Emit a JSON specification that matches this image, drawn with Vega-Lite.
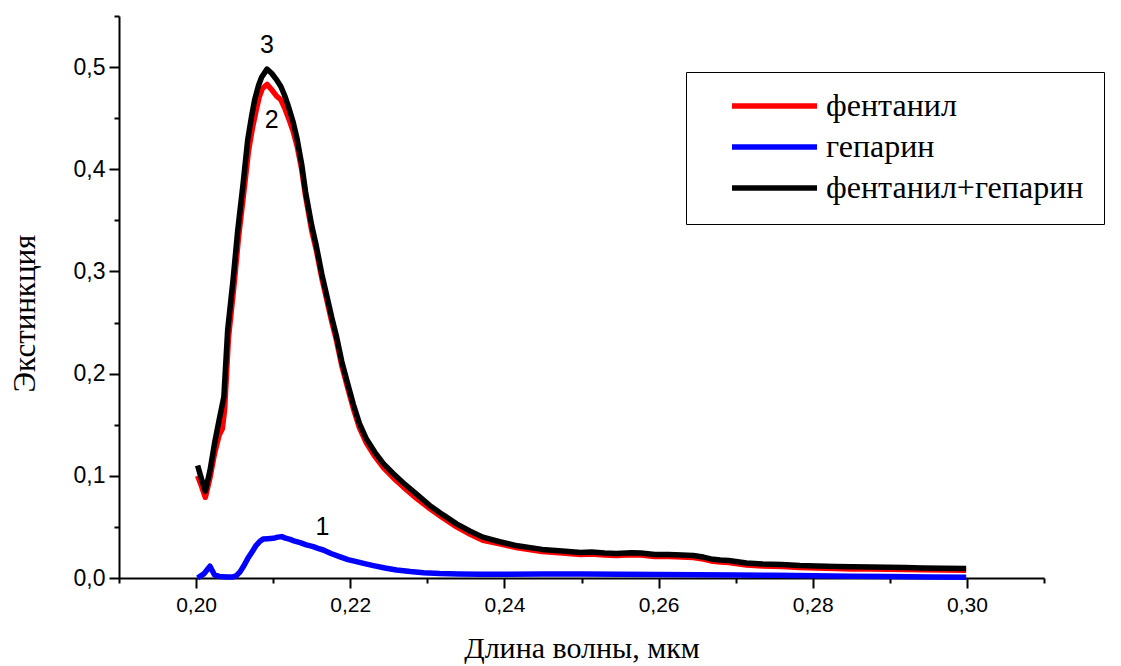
{
  "$schema": "https://vega.github.io/schema/vega-lite/v6.json",
  "width": 925,
  "height": 562,
  "autosize": {"type": "none"},
  "padding": {"left": 119, "top": 16, "right": 77, "bottom": 88},
  "background": "white",
  "config": {
    "view": {"stroke": null},
    "font": "Liberation Sans",
    "legend": {
      "orient": "none",
      "legendX": 567,
      "legendY": 56,
      "symbolType": "stroke",
      "symbolSize": 7225,
      "symbolStrokeWidth": 5.5,
      "labelFont": "Liberation Serif",
      "labelFontSize": 32,
      "labelColor": "black",
      "labelOffset": 6,
      "labelLimit": 600,
      "padding": 20,
      "symbolOffset": 23,
      "strokeColor": "black",
      "rowPadding": 9,
      "clipHeight": 28
    }
  },
  "datasets": {
    "curves": [
      {"sample": "фентанил", "wavelength": 0.2002, "extinction": 0.100},
      {"sample": "фентанил", "wavelength": 0.2007, "extinction": 0.090},
      {"sample": "фентанил", "wavelength": 0.2012, "extinction": 0.079},
      {"sample": "фентанил", "wavelength": 0.2018, "extinction": 0.098},
      {"sample": "фентанил", "wavelength": 0.2024, "extinction": 0.122},
      {"sample": "фентанил", "wavelength": 0.2030, "extinction": 0.140},
      {"sample": "фентанил", "wavelength": 0.2034, "extinction": 0.146},
      {"sample": "фентанил", "wavelength": 0.2037, "extinction": 0.165},
      {"sample": "фентанил", "wavelength": 0.2042, "extinction": 0.235},
      {"sample": "фентанил", "wavelength": 0.2049, "extinction": 0.285},
      {"sample": "фентанил", "wavelength": 0.2055, "extinction": 0.333},
      {"sample": "фентанил", "wavelength": 0.2062, "extinction": 0.378},
      {"sample": "фентанил", "wavelength": 0.2068, "extinction": 0.418},
      {"sample": "фентанил", "wavelength": 0.2073, "extinction": 0.440},
      {"sample": "фентанил", "wavelength": 0.2078, "extinction": 0.458},
      {"sample": "фентанил", "wavelength": 0.2082, "extinction": 0.471},
      {"sample": "фентанил", "wavelength": 0.2086, "extinction": 0.479},
      {"sample": "фентанил", "wavelength": 0.2092, "extinction": 0.483},
      {"sample": "фентанил", "wavelength": 0.2098, "extinction": 0.478},
      {"sample": "фентанил", "wavelength": 0.2104, "extinction": 0.472},
      {"sample": "фентанил", "wavelength": 0.2110, "extinction": 0.468},
      {"sample": "фентанил", "wavelength": 0.2115, "extinction": 0.460},
      {"sample": "фентанил", "wavelength": 0.2120, "extinction": 0.450},
      {"sample": "фентанил", "wavelength": 0.2126, "extinction": 0.437},
      {"sample": "фентанил", "wavelength": 0.2131, "extinction": 0.423},
      {"sample": "фентанил", "wavelength": 0.2137, "extinction": 0.400},
      {"sample": "фентанил", "wavelength": 0.2142, "extinction": 0.374},
      {"sample": "фентанил", "wavelength": 0.2150, "extinction": 0.340},
      {"sample": "фентанил", "wavelength": 0.2156, "extinction": 0.321},
      {"sample": "фентанил", "wavelength": 0.2163, "extinction": 0.294},
      {"sample": "фентанил", "wavelength": 0.2170, "extinction": 0.271},
      {"sample": "фентанил", "wavelength": 0.2176, "extinction": 0.251},
      {"sample": "фентанил", "wavelength": 0.2182, "extinction": 0.233},
      {"sample": "фентанил", "wavelength": 0.2189, "extinction": 0.208},
      {"sample": "фентанил", "wavelength": 0.2196, "extinction": 0.188},
      {"sample": "фентанил", "wavelength": 0.2204, "extinction": 0.166},
      {"sample": "фентанил", "wavelength": 0.2212, "extinction": 0.147},
      {"sample": "фентанил", "wavelength": 0.2221, "extinction": 0.132},
      {"sample": "фентанил", "wavelength": 0.2232, "extinction": 0.119},
      {"sample": "фентанил", "wavelength": 0.2243, "extinction": 0.108},
      {"sample": "фентанил", "wavelength": 0.2256, "extinction": 0.098},
      {"sample": "фентанил", "wavelength": 0.2269, "extinction": 0.089},
      {"sample": "фентанил", "wavelength": 0.2286, "extinction": 0.078},
      {"sample": "фентанил", "wavelength": 0.2303, "extinction": 0.068},
      {"sample": "фентанил", "wavelength": 0.2320, "extinction": 0.059},
      {"sample": "фентанил", "wavelength": 0.2338, "extinction": 0.050},
      {"sample": "фентанил", "wavelength": 0.2355, "extinction": 0.043},
      {"sample": "фентанил", "wavelength": 0.2372, "extinction": 0.037},
      {"sample": "фентанил", "wavelength": 0.2394, "extinction": 0.0335},
      {"sample": "фентанил", "wavelength": 0.2417, "extinction": 0.0295},
      {"sample": "фентанил", "wavelength": 0.2449, "extinction": 0.026},
      {"sample": "фентанил", "wavelength": 0.2475, "extinction": 0.0245},
      {"sample": "фентанил", "wavelength": 0.2499, "extinction": 0.023},
      {"sample": "фентанил", "wavelength": 0.2513, "extinction": 0.0235},
      {"sample": "фентанил", "wavelength": 0.2530, "extinction": 0.0225},
      {"sample": "фентанил", "wavelength": 0.2545, "extinction": 0.022},
      {"sample": "фентанил", "wavelength": 0.2565, "extinction": 0.0228},
      {"sample": "фентанил", "wavelength": 0.2577, "extinction": 0.0225},
      {"sample": "фентанил", "wavelength": 0.2595, "extinction": 0.021},
      {"sample": "фентанил", "wavelength": 0.2613, "extinction": 0.021},
      {"sample": "фентанил", "wavelength": 0.2630, "extinction": 0.0205},
      {"sample": "фентанил", "wavelength": 0.2645, "extinction": 0.020},
      {"sample": "фентанил", "wavelength": 0.2658, "extinction": 0.0185},
      {"sample": "фентанил", "wavelength": 0.2668, "extinction": 0.0167},
      {"sample": "фентанил", "wavelength": 0.2680, "extinction": 0.0157},
      {"sample": "фентанил", "wavelength": 0.2691, "extinction": 0.0152},
      {"sample": "фентанил", "wavelength": 0.2714, "extinction": 0.0127},
      {"sample": "фентанил", "wavelength": 0.2735, "extinction": 0.0117},
      {"sample": "фентанил", "wavelength": 0.2760, "extinction": 0.0112},
      {"sample": "фентанил", "wavelength": 0.2783, "extinction": 0.0102},
      {"sample": "фентанил", "wavelength": 0.2805, "extinction": 0.0097},
      {"sample": "фентанил", "wavelength": 0.2830, "extinction": 0.0093},
      {"sample": "фентанил", "wavelength": 0.2851, "extinction": 0.0089},
      {"sample": "фентанил", "wavelength": 0.2875, "extinction": 0.0087},
      {"sample": "фентанил", "wavelength": 0.2897, "extinction": 0.0086},
      {"sample": "фентанил", "wavelength": 0.2920, "extinction": 0.0084},
      {"sample": "фентанил", "wavelength": 0.2942, "extinction": 0.0081},
      {"sample": "фентанил", "wavelength": 0.2970, "extinction": 0.0079},
      {"sample": "фентанил", "wavelength": 0.2999, "extinction": 0.0077},
      {"sample": "гепарин", "wavelength": 0.2002, "extinction": 0.000},
      {"sample": "гепарин", "wavelength": 0.2010, "extinction": 0.004},
      {"sample": "гепарин", "wavelength": 0.2018, "extinction": 0.0115},
      {"sample": "гепарин", "wavelength": 0.2024, "extinction": 0.003},
      {"sample": "гепарин", "wavelength": 0.2030, "extinction": 0.0015},
      {"sample": "гепарин", "wavelength": 0.2040, "extinction": 0.001},
      {"sample": "гепарин", "wavelength": 0.2048, "extinction": 0.001},
      {"sample": "гепарин", "wavelength": 0.2052, "extinction": 0.002},
      {"sample": "гепарин", "wavelength": 0.2057, "extinction": 0.006},
      {"sample": "гепарин", "wavelength": 0.2062, "extinction": 0.012},
      {"sample": "гепарин", "wavelength": 0.2067, "extinction": 0.019},
      {"sample": "гепарин", "wavelength": 0.2073, "extinction": 0.026},
      {"sample": "гепарин", "wavelength": 0.2078, "extinction": 0.032},
      {"sample": "гепарин", "wavelength": 0.2083, "extinction": 0.036},
      {"sample": "гепарин", "wavelength": 0.2087, "extinction": 0.0382},
      {"sample": "гепарин", "wavelength": 0.2093, "extinction": 0.0385},
      {"sample": "гепарин", "wavelength": 0.2100, "extinction": 0.0388},
      {"sample": "гепарин", "wavelength": 0.2106, "extinction": 0.040},
      {"sample": "гепарин", "wavelength": 0.2111, "extinction": 0.0405},
      {"sample": "гепарин", "wavelength": 0.2116, "extinction": 0.039},
      {"sample": "гепарин", "wavelength": 0.2122, "extinction": 0.0378},
      {"sample": "гепарин", "wavelength": 0.2128, "extinction": 0.036},
      {"sample": "гепарин", "wavelength": 0.2135, "extinction": 0.0346},
      {"sample": "гепарин", "wavelength": 0.2143, "extinction": 0.0325},
      {"sample": "гепарин", "wavelength": 0.2152, "extinction": 0.0307},
      {"sample": "гепарин", "wavelength": 0.2158, "extinction": 0.029},
      {"sample": "гепарин", "wavelength": 0.2165, "extinction": 0.0274},
      {"sample": "гепарин", "wavelength": 0.2175, "extinction": 0.024},
      {"sample": "гепарин", "wavelength": 0.2186, "extinction": 0.0209},
      {"sample": "гепарин", "wavelength": 0.2197, "extinction": 0.018},
      {"sample": "гепарин", "wavelength": 0.2208, "extinction": 0.016},
      {"sample": "гепарин", "wavelength": 0.2220, "extinction": 0.0138},
      {"sample": "гепарин", "wavelength": 0.2230, "extinction": 0.0121},
      {"sample": "гепарин", "wavelength": 0.2245, "extinction": 0.0098},
      {"sample": "гепарин", "wavelength": 0.2260, "extinction": 0.0078},
      {"sample": "гепарин", "wavelength": 0.2278, "extinction": 0.0063},
      {"sample": "гепарин", "wavelength": 0.2295, "extinction": 0.0052},
      {"sample": "гепарин", "wavelength": 0.2316, "extinction": 0.0044},
      {"sample": "гепарин", "wavelength": 0.2340, "extinction": 0.0039},
      {"sample": "гепарин", "wavelength": 0.2370, "extinction": 0.0037},
      {"sample": "гепарин", "wavelength": 0.2400, "extinction": 0.0037},
      {"sample": "гепарин", "wavelength": 0.2450, "extinction": 0.0038},
      {"sample": "гепарин", "wavelength": 0.2500, "extinction": 0.0038},
      {"sample": "гепарин", "wavelength": 0.2550, "extinction": 0.0037},
      {"sample": "гепарин", "wavelength": 0.2600, "extinction": 0.0035},
      {"sample": "гепарин", "wavelength": 0.2650, "extinction": 0.0033},
      {"sample": "гепарин", "wavelength": 0.2700, "extinction": 0.0030},
      {"sample": "гепарин", "wavelength": 0.2750, "extinction": 0.0026},
      {"sample": "гепарин", "wavelength": 0.2800, "extinction": 0.0022},
      {"sample": "гепарин", "wavelength": 0.2850, "extinction": 0.0018},
      {"sample": "гепарин", "wavelength": 0.2900, "extinction": 0.0014},
      {"sample": "гепарин", "wavelength": 0.2950, "extinction": 0.0011},
      {"sample": "гепарин", "wavelength": 0.2999, "extinction": 0.0008},
      {"sample": "фентанил+гепарин", "wavelength": 0.2002, "extinction": 0.110},
      {"sample": "фентанил+гепарин", "wavelength": 0.2007, "extinction": 0.097},
      {"sample": "фентанил+гепарин", "wavelength": 0.2012, "extinction": 0.085},
      {"sample": "фентанил+гепарин", "wavelength": 0.2018, "extinction": 0.105},
      {"sample": "фентанил+гепарин", "wavelength": 0.2024, "extinction": 0.132},
      {"sample": "фентанил+гепарин", "wavelength": 0.2030, "extinction": 0.155},
      {"sample": "фентанил+гепарин", "wavelength": 0.2036, "extinction": 0.177},
      {"sample": "фентанил+гепарин", "wavelength": 0.2041, "extinction": 0.243},
      {"sample": "фентанил+гепарин", "wavelength": 0.2048, "extinction": 0.292},
      {"sample": "фентанил+гепарин", "wavelength": 0.2054, "extinction": 0.340},
      {"sample": "фентанил+гепарин", "wavelength": 0.2061, "extinction": 0.386},
      {"sample": "фентанил+гепарин", "wavelength": 0.2067, "extinction": 0.429},
      {"sample": "фентанил+гепарин", "wavelength": 0.2072, "extinction": 0.452},
      {"sample": "фентанил+гепарин", "wavelength": 0.2076, "extinction": 0.468},
      {"sample": "фентанил+гепарин", "wavelength": 0.2081, "extinction": 0.482},
      {"sample": "фентанил+гепарин", "wavelength": 0.2085, "extinction": 0.490},
      {"sample": "фентанил+гепарин", "wavelength": 0.2092, "extinction": 0.498},
      {"sample": "фентанил+гепарин", "wavelength": 0.2098, "extinction": 0.494},
      {"sample": "фентанил+гепарин", "wavelength": 0.2104, "extinction": 0.488},
      {"sample": "фентанил+гепарин", "wavelength": 0.2110, "extinction": 0.481},
      {"sample": "фентанил+гепарин", "wavelength": 0.2115, "extinction": 0.472},
      {"sample": "фентанил+гепарин", "wavelength": 0.2120, "extinction": 0.461},
      {"sample": "фентанил+гепарин", "wavelength": 0.2126, "extinction": 0.446},
      {"sample": "фентанил+гепарин", "wavelength": 0.2131, "extinction": 0.430},
      {"sample": "фентанил+гепарин", "wavelength": 0.2137, "extinction": 0.405},
      {"sample": "фентанил+гепарин", "wavelength": 0.2142, "extinction": 0.378},
      {"sample": "фентанил+гепарин", "wavelength": 0.2150, "extinction": 0.345},
      {"sample": "фентанил+гепарин", "wavelength": 0.2156, "extinction": 0.325},
      {"sample": "фентанил+гепарин", "wavelength": 0.2163, "extinction": 0.298},
      {"sample": "фентанил+гепарин", "wavelength": 0.2170, "extinction": 0.275},
      {"sample": "фентанил+гепарин", "wavelength": 0.2176, "extinction": 0.255},
      {"sample": "фентанил+гепарин", "wavelength": 0.2182, "extinction": 0.237},
      {"sample": "фентанил+гепарин", "wavelength": 0.2189, "extinction": 0.212},
      {"sample": "фентанил+гепарин", "wavelength": 0.2196, "extinction": 0.192},
      {"sample": "фентанил+гепарин", "wavelength": 0.2204, "extinction": 0.170},
      {"sample": "фентанил+гепарин", "wavelength": 0.2212, "extinction": 0.151},
      {"sample": "фентанил+гепарин", "wavelength": 0.2221, "extinction": 0.136},
      {"sample": "фентанил+гепарин", "wavelength": 0.2232, "extinction": 0.123},
      {"sample": "фентанил+гепарин", "wavelength": 0.2243, "extinction": 0.112},
      {"sample": "фентанил+гепарин", "wavelength": 0.2256, "extinction": 0.102},
      {"sample": "фентанил+гепарин", "wavelength": 0.2269, "extinction": 0.093},
      {"sample": "фентанил+гепарин", "wavelength": 0.2286, "extinction": 0.082},
      {"sample": "фентанил+гепарин", "wavelength": 0.2303, "extinction": 0.071},
      {"sample": "фентанил+гепарин", "wavelength": 0.2320, "extinction": 0.062},
      {"sample": "фентанил+гепарин", "wavelength": 0.2338, "extinction": 0.053},
      {"sample": "фентанил+гепарин", "wavelength": 0.2355, "extinction": 0.046},
      {"sample": "фентанил+гепарин", "wavelength": 0.2372, "extinction": 0.040},
      {"sample": "фентанил+гепарин", "wavelength": 0.2394, "extinction": 0.0355},
      {"sample": "фентанил+гепарин", "wavelength": 0.2417, "extinction": 0.0315},
      {"sample": "фентанил+гепарин", "wavelength": 0.2449, "extinction": 0.028},
      {"sample": "фентанил+гепарин", "wavelength": 0.2475, "extinction": 0.0265},
      {"sample": "фентанил+гепарин", "wavelength": 0.2499, "extinction": 0.025},
      {"sample": "фентанил+гепарин", "wavelength": 0.2513, "extinction": 0.0255},
      {"sample": "фентанил+гепарин", "wavelength": 0.2530, "extinction": 0.0245},
      {"sample": "фентанил+гепарин", "wavelength": 0.2545, "extinction": 0.024},
      {"sample": "фентанил+гепарин", "wavelength": 0.2565, "extinction": 0.0248},
      {"sample": "фентанил+гепарин", "wavelength": 0.2577, "extinction": 0.0245},
      {"sample": "фентанил+гепарин", "wavelength": 0.2595, "extinction": 0.023},
      {"sample": "фентанил+гепарин", "wavelength": 0.2613, "extinction": 0.023},
      {"sample": "фентанил+гепарин", "wavelength": 0.2630, "extinction": 0.0225},
      {"sample": "фентанил+гепарин", "wavelength": 0.2645, "extinction": 0.022},
      {"sample": "фентанил+гепарин", "wavelength": 0.2658, "extinction": 0.0205},
      {"sample": "фентанил+гепарин", "wavelength": 0.2668, "extinction": 0.0187},
      {"sample": "фентанил+гепарин", "wavelength": 0.2680, "extinction": 0.0177},
      {"sample": "фентанил+гепарин", "wavelength": 0.2691, "extinction": 0.0172},
      {"sample": "фентанил+гепарин", "wavelength": 0.2714, "extinction": 0.0147},
      {"sample": "фентанил+гепарин", "wavelength": 0.2735, "extinction": 0.0137},
      {"sample": "фентанил+гепарин", "wavelength": 0.2760, "extinction": 0.0132},
      {"sample": "фентанил+гепарин", "wavelength": 0.2783, "extinction": 0.0122},
      {"sample": "фентанил+гепарин", "wavelength": 0.2805, "extinction": 0.0117},
      {"sample": "фентанил+гепарин", "wavelength": 0.2830, "extinction": 0.0113},
      {"sample": "фентанил+гепарин", "wavelength": 0.2851, "extinction": 0.0109},
      {"sample": "фентанил+гепарин", "wavelength": 0.2875, "extinction": 0.0107},
      {"sample": "фентанил+гепарин", "wavelength": 0.2897, "extinction": 0.0105},
      {"sample": "фентанил+гепарин", "wavelength": 0.2920, "extinction": 0.0102},
      {"sample": "фентанил+гепарин", "wavelength": 0.2942, "extinction": 0.0099},
      {"sample": "фентанил+гепарин", "wavelength": 0.2970, "extinction": 0.0096},
      {"sample": "фентанил+гепарин", "wavelength": 0.2999, "extinction": 0.0093}
    ],
    "labels": [
      {"label": "3", "wavelength": 0.2092, "extinction": 0.5215},
      {"label": "2", "wavelength": 0.2098, "extinction": 0.448},
      {"label": "1", "wavelength": 0.2164, "extinction": 0.050}
    ]
  },
  "layer": [
    {
      "data": {"name": "curves"},
      "mark": {"type": "line", "strokeWidth": 5.5, "strokeJoin": "round", "strokeCap": "butt"},
      "encoding": {
        "x": {
          "field": "wavelength",
          "type": "quantitative",
          "scale": {"domain": [0.19, 0.31], "nice": false, "zero": false},
          "axis": {
            "values": [0.19, 0.20, 0.21, 0.22, 0.23, 0.24, 0.25, 0.26, 0.27, 0.28, 0.29, 0.30, 0.31],
            "labelExpr": "round(datum.value*100) % 2 == 0 ? replace(format(datum.value, '.2f'), '.', ',') : ''",
            "tickSize": {"condition": {"test": "round(datum.value*100) % 2 == 0", "value": 10}, "value": 5},
            "grid": false,
            "domainColor": "black",
            "domainWidth": 2,
            "tickColor": "black",
            "tickWidth": 2,
            "labelFont": "Liberation Sans",
            "labelFontSize": 21,
            "labelColor": "black",
            "labelPadding": 6,
            "labelFlush": false,
            "labelOverlap": false,
            "title": "Длина волны, мкм",
            "titleFont": "Liberation Serif",
            "titleFontSize": 30,
            "titleFontWeight": "normal",
            "titleColor": "black",
            "titleY": 79,
            "titleBaseline": "alphabetic"
          }
        },
        "y": {
          "field": "extinction",
          "type": "quantitative",
          "scale": {"domain": [0, 0.55], "nice": false},
          "axis": {
            "values": [0, 0.05, 0.1, 0.15, 0.2, 0.25, 0.3, 0.35, 0.4, 0.45, 0.5, 0.55],
            "labelExpr": "round(datum.value*100) % 10 == 0 ? replace(format(datum.value, '.1f'), '.', ',') : ''",
            "tickSize": {"condition": {"test": "round(datum.value*100) % 10 == 0", "value": 10}, "value": 5},
            "grid": false,
            "domainColor": "black",
            "domainWidth": 2,
            "tickColor": "black",
            "tickWidth": 2,
            "labelFont": "Liberation Sans",
            "labelFontSize": 23,
            "labelColor": "black",
            "labelPadding": 4,
            "labelFlush": false,
            "labelOverlap": false,
            "title": "Экстинкция",
            "titleFont": "Liberation Serif",
            "titleFontSize": 31,
            "titleFontWeight": "normal",
            "titleColor": "black",
            "titleX": -94,
            "titleY": 297,
            "titleBaseline": "middle",
            "titleAlign": "center"
          }
        },
        "color": {
          "field": "sample",
          "type": "nominal",
          "sort": ["фентанил", "гепарин", "фентанил+гепарин"],
          "scale": {"domain": ["фентанил", "гепарин", "фентанил+гепарин"], "range": ["#ff0000", "#0000ff", "#000000"]},
          "legend": {"title": null}
        }
      }
    },
    {
      "data": {"name": "labels"},
      "mark": {"type": "text", "font": "Liberation Sans", "fontSize": 25, "color": "black", "baseline": "middle", "align": "center"},
      "encoding": {
        "x": {"field": "wavelength", "type": "quantitative"},
        "y": {"field": "extinction", "type": "quantitative"},
        "text": {"field": "label", "type": "nominal"}
      }
    }
  ]
}
